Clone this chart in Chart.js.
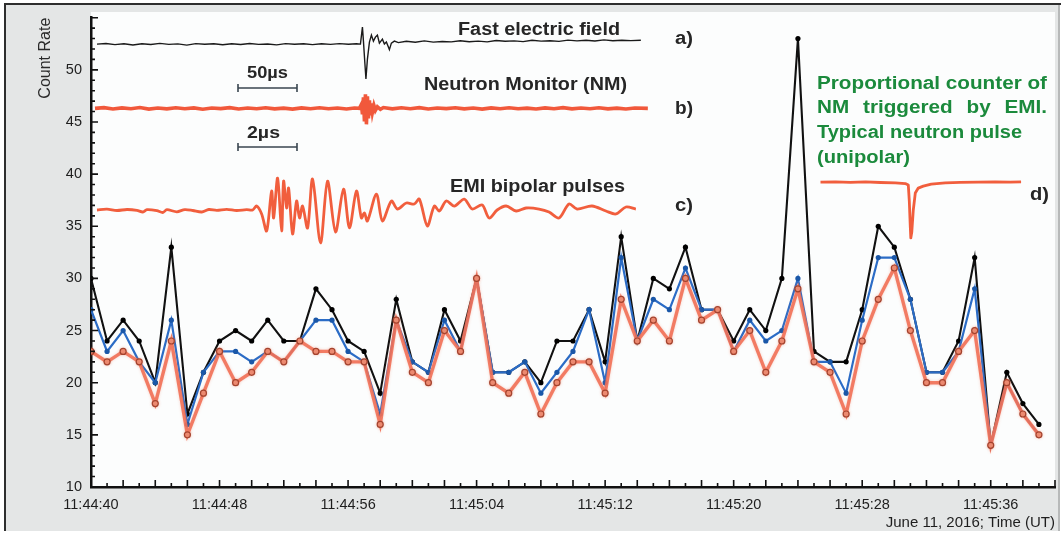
<!DOCTYPE html>
<html>
<head>
<meta charset="utf-8">
<script src="https://cdn.jsdelivr.net/npm/chart.js@4.4.1/dist/chart.umd.min.js"></script>
<style>
  html, body { margin: 0; padding: 0; background: #fff; }
  #wrap { width: 1064px; height: 535px; }
</style>
</head>
<body>
<div id="wrap"><canvas id="rateChart" width="1064" height="535"></canvas></div>
<script>
// one-second counts, 11:44:40 .. 11:45:39 UT
var times = [
  '11:44:40','11:44:41','11:44:42','11:44:43','11:44:44','11:44:45','11:44:46','11:44:47','11:44:48','11:44:49',
  '11:44:50','11:44:51','11:44:52','11:44:53','11:44:54','11:44:55','11:44:56','11:44:57','11:44:58','11:44:59',
  '11:45:00','11:45:01','11:45:02','11:45:03','11:45:04','11:45:05','11:45:06','11:45:07','11:45:08','11:45:09',
  '11:45:10','11:45:11','11:45:12','11:45:13','11:45:14','11:45:15','11:45:16','11:45:17','11:45:18','11:45:19',
  '11:45:20','11:45:21','11:45:22','11:45:23','11:45:24','11:45:25','11:45:26','11:45:27','11:45:28','11:45:29',
  '11:45:30','11:45:31','11:45:32','11:45:33','11:45:34','11:45:35','11:45:36','11:45:37','11:45:38','11:45:39'
];
var tickLabels = ['11:44:40', '11:44:48', '11:44:56', '11:45:04', '11:45:12', '11:45:20', '11:45:28', '11:45:36'];

var blackRate = [30,24,26,24,20,33,17,21,24,25, 24,26,24,24,29,27,24,23,19,28,
                 22,21,27,24,30,21,21,22,20,24, 24,27,22,34,24,30,29,33,27,27,
                 24,27,25,30,53,23,22,22,27,35, 33,28,21,21,24,32,14,21,18,16];
var blueRate  = [27,23,25,22,20,26,16,21,23,23, 22,23,22,24,26,26,23,22,17,26,
                 22,21,26,23,30,21,21,22,19,21, 23,27,20,32,24,28,27,31,27,27,
                 23,26,24,25,30,22,22,19,26,32, 32,28,21,21,23,29,14,20,17,15];
var redRate   = [23,22,23,22,18,24,15,19,23,20, 21,23,22,24,23,23,22,22,16,26,
                 21,20,25,23,30,20,19,21,17,20, 22,22,19,28,24,26,24,30,26,27,
                 23,25,21,24,29,22,21,17,24,28, 31,25,20,20,23,25,14,20,17,15];

// inset waveforms: [sample, amplitude] pairs
var fieldTrace = [
  [0,0],[9,0.6],[18,-0.5],[27,0.4],[36,-0.9],[45,0.3],[54,-0.4],[63,0.7],[72,-0.3],[81,0.2],
  [90,-1],[99,0.5],[108,-0.2],[117,0.4],[126,-0.6],[135,0.3],[144,-0.4],[153,0.6],[162,-0.3],[171,0.1],
  [180,-0.8],[189,0.5],[198,-0.2],[207,0.4],[216,-0.5],[225,0.3],[234,-0.3],[243,0.5],[252,-0.2],[260,0.3],
  [264,0],[266,17],[267,3],[268.5,-20],[269.5,-35],[271,-15],[273,2],[275,9],[277,3],[279,7],
  [281,9],[283,1],[286,5],[288,0],[290,2],[292,-3],[293,-5.5],[295,1],[298,3],[302,1.5],
  [310,2.8],[319,1.8],[328,3.2],[337,2],[346,2.6],[355,2.2],[364,3.4],[373,2.4],[382,3],[391,2.2],
  [400,3.6],[409,2.8],[418,3.2],[427,2.5],[436,3.8],[445,3],[454,3.4],[463,2.7],[472,4],[481,3.2],
  [490,3.8],[499,3.1],[508,4.2],[517,3.4],[526,3.9],[535,3.5],[545,3.8]
];
var nmTrace = [
  [0,0],[9,0.7],[18,-0.6],[27,0.5],[36,-0.4],[45,0.8],[54,-0.7],[63,0.3],[72,-0.5],[81,0.6],
  [90,-0.3],[99,0.5],[108,-0.8],[117,0.4],[126,-0.2],[135,0.7],[144,-0.6],[153,0.3],[162,-0.4],[171,0.6],
  [180,-0.5],[189,0.2],[198,-0.7],[207,0.5],[216,-0.3],[225,0.6],[234,-0.4],[243,0.3],[252,-0.6],[260,0.4],
  [265,0],[267,4],[268,-6],[269,11],[270,-13],[271,14],[272,-16],[273,12],[274,-10],[275,8],
  [276,-7],[277,5],[278,-4],[279.5,3],[281,-2],[283,1.5],[286,-1],[289,0.8],
  [298,-0.5],[307,0.6],[316,-0.3],[325,0.7],[334,-0.6],[343,0.4],[352,-0.2],[361,0.6],[370,-0.5],[379,0.3],
  [388,-0.7],[397,0.5],[406,-0.3],[415,0.6],[424,-0.4],[433,0.2],[442,-0.6],[451,0.5],[460,-0.3],[469,0.7],
  [478,-0.5],[487,0.3],[496,-0.4],[505,0.6],[514,-0.5],[523,0.2],[532,-0.6],[541,0.4],[554,0]
];
var emiTrace = [
  [0,0],[10,0.8],[20,-0.5],[30,0.5],[40,-0.3],[46,-2],[50,0.4],[60,-0.6],[66,-2.5],[70,0.3],
  [80,-1.8],[88,0.4],[96,-0.5],[105,-2],[112,0.5],[120,-0.4],[130,0.6],[140,-0.5],[150,0.3],[156,0],
  [160,4],[165,-4],[170,-21],[175,19],[177,-8],[181,32],[185,-21],[187,29],[190,2],[192,22],
  [196,-24],[200,9],[203,-8],[206,4],[211,-18],[216,31],[224,-33],[231,29],[239,-22],[247,21],
  [253,-18],[260,19],[265,-8],[268,-3],[271,-11],[280,16],[286,-11],[295,9],[301,1],[310,7],
  [318,6],[323,11],[331,-16],[338,4],[343,-1],[350,9],[358,4],[368,11],[376,1],[386,5],
  [393,-8],[401,0],[410,4],[420,-1],[430,2],[443,1],[453,-2],[463,-8],[473,6],[481,1],
  [496,4],[510,-1],[520,-4],[530,3],[540,1]
];
var pulseTrace = [
  [0,0],[15,0.3],[30,-0.3],[45,0.2],[60,-0.4],[75,-0.8],[85,-1.5],[88,-3],[89,-19],[90,-45],
  [90.5,-56],[91.5,-50],[93,-28],[95,-11],[98,-6],[103,-4],[111,-2],[125,-0.8],[140,-0.3],[158,0],
  [175,0.3],[190,0],[201,0.2]
];

var sansFont = '"Liberation Sans", Arial, sans-serif';

function toPoints(values) {
  return values.map(function (v, i) { return { x: i, y: v }; });
}

// hidden axis pair for one inset trace
function hiddenX(min, max) {
  return { type: 'linear', display: false, position: 'top', min: min, max: max };
}
function hiddenY(min, max) {
  return { type: 'linear', display: false, position: 'left', min: min, max: max };
}

// draws text stretched to a given width
function fitText(ctx, text, left, base, width) {
  var w = ctx.measureText(text).width;
  ctx.save();
  ctx.translate(left, base);
  ctx.scale(width / w, 1);
  ctx.fillText(text, 0, 0);
  ctx.restore();
  return width / w;
}

var panel = {
  id: 'panel',
  beforeDraw: function (chart) {
    var ctx = chart.ctx, a = chart.chartArea;
    ctx.save();
    ctx.fillStyle = '#ffffff';
    ctx.fillRect(0, 0, chart.width, chart.height);
    ctx.fillStyle = '#e4e6e6';
    ctx.fillRect(5, 4, 1055, 527);
    ctx.fillStyle = '#fcfdfd';
    ctx.fillRect(a.left, 12, a.right - a.left, a.bottom - 12);
    ctx.strokeStyle = '#2e2e2e';
    ctx.lineWidth = 2;
    ctx.beginPath();
    ctx.moveTo(5, 531); ctx.lineTo(5, 4); ctx.lineTo(1061, 4);
    ctx.stroke();
    ctx.strokeStyle = '#a8aaaa';
    ctx.lineWidth = 1.5;
    ctx.beginPath();
    ctx.moveTo(1059, 5); ctx.lineTo(1059, 531);
    ctx.stroke();
    ctx.restore();
  }
};

var tickMarks = {
  id: 'tickMarks',
  afterDatasetsDraw: function (chart) {
    var ctx = chart.ctx, a = chart.chartArea;
    var xs = chart.scales.x, ys = chart.scales.y;
    ctx.save();
    ctx.strokeStyle = '#111';
    ctx.lineWidth = 1.6;
    ctx.beginPath();
    for (var s = 0; s <= 60; s++) {
      var px = xs.getPixelForValue(s);
      ctx.moveTo(px, a.bottom);
      ctx.lineTo(px, a.bottom - (s % 2 === 0 ? 7 : 4));
    }
    for (var v = 10; v <= 55; v++) {
      var py = ys.getPixelForValue(v);
      ctx.moveTo(a.left, py);
      ctx.lineTo(a.left + (v % 5 === 0 ? 7 : 4), py);
    }
    ctx.stroke();
    ctx.restore();
  }
};

var redGlow = {
  id: 'redGlow',
  beforeDatasetDraw: function (chart, args) {
    if (args.index !== 0) return;
    chart.ctx.save();
    chart.ctx.shadowColor = 'rgba(240,120,90,0.35)';
    chart.ctx.shadowBlur = 3;
  },
  afterDatasetDraw: function (chart, args) {
    if (args.index !== 0) return;
    chart.ctx.restore();
  }
};

var insetText = {
  id: 'insetText',
  afterDraw: function (chart) {
    var ctx = chart.ctx;
    ctx.save();
    ctx.textAlign = 'left';
    ctx.textBaseline = 'alphabetic';
    ctx.fillStyle = '#262626';
    ctx.font = 'bold 17.5px ' + sansFont;
    fitText(ctx, 'Fast electric field', 458, 35, 162);
    fitText(ctx, 'Neutron Monitor (NM)', 424, 90, 203);
    fitText(ctx, 'EMI bipolar pulses', 450, 192, 175);
    ctx.font = 'bold 18px ' + sansFont;
    fitText(ctx, 'a)', 675, 44, 18);
    fitText(ctx, 'b)', 675, 114, 18);
    fitText(ctx, 'c)', 675, 211, 18);
    fitText(ctx, 'd)', 1030, 200, 19);
    ctx.font = 'bold 17px ' + sansFont;
    fitText(ctx, '50µs', 247, 78, 41);
    fitText(ctx, '2µs', 247, 138, 33);

    // time-scale bars
    ctx.strokeStyle = '#3a4650';
    ctx.lineWidth = 1.6;
    [88, 147].forEach(function (y) {
      ctx.beginPath();
      ctx.moveTo(238, y); ctx.lineTo(297, y);
      ctx.moveTo(238, y - 4); ctx.lineTo(238, y + 4);
      ctx.moveTo(297, y - 4); ctx.lineTo(297, y + 4);
      ctx.stroke();
    });

    // note on the proportional counter
    ctx.fillStyle = '#1b8a3c';
    ctx.font = 'bold 17.5px ' + sansFont;
    var sx = fitText(ctx, 'Proportional counter of', 817, 88.5, 230);
    var words = ['NM', 'triggered', 'by', 'EMI.'];
    var widths = words.map(function (w) { return ctx.measureText(w).width * sx; });
    var gap = (230 - widths.reduce(function (p, c) { return p + c; }, 0)) / (words.length - 1);
    var x = 817;
    words.forEach(function (w, i) {
      fitText(ctx, w, x, 113, widths[i]);
      x += widths[i] + gap;
    });
    fitText(ctx, 'Typical neutron pulse', 817, 138, 205);
    fitText(ctx, '(unipolar)', 817, 163, 93);
    ctx.restore();
  }
};

var ctx = document.getElementById('rateChart').getContext('2d');

var rateChart = new Chart(ctx, {
  type: 'line',
  data: {
    datasets: [
      {
        label: 'red',
        data: toPoints(redRate),
        borderColor: 'rgba(241,112,86,0.9)',
        borderWidth: 3.4,
        pointRadius: 3,
        pointBorderWidth: 1.2,
        pointBackgroundColor: '#ec8c73',
        pointBorderColor: '#a4432e',
        tension: 0
      },
      {
        label: 'blue',
        data: toPoints(blueRate),
        borderColor: '#2b6cc6',
        borderWidth: 2.2,
        pointRadius: 2.6,
        pointBorderWidth: 0,
        pointBackgroundColor: '#1a57a8',
        tension: 0
      },
      {
        label: 'black',
        data: toPoints(blackRate),
        borderColor: '#111',
        borderWidth: 2.1,
        pointRadius: 2.6,
        pointBorderWidth: 0,
        pointBackgroundColor: '#000',
        tension: 0
      },
      {
        label: 'field',
        data: fieldTrace,
        xAxisID: 'xField',
        yAxisID: 'yField',
        borderColor: '#1a1a1a',
        borderWidth: 1.4,
        pointRadius: 0
      },
      {
        label: 'nm',
        data: nmTrace,
        xAxisID: 'xNm',
        yAxisID: 'yNm',
        borderColor: 'rgba(240,70,38,0.9)',
        borderWidth: 3.6,
        pointRadius: 0
      },
      {
        label: 'emi',
        data: emiTrace,
        xAxisID: 'xEmi',
        yAxisID: 'yEmi',
        borderColor: 'rgba(240,80,45,0.92)',
        borderWidth: 2.8,
        borderJoinStyle: 'round',
        tension: 0.3,
        pointRadius: 0
      },
      {
        label: 'pulse',
        data: pulseTrace,
        xAxisID: 'xPulse',
        yAxisID: 'yPulse',
        borderColor: 'rgba(240,80,45,0.92)',
        borderWidth: 2.8,
        borderJoinStyle: 'round',
        pointRadius: 0
      }
    ]
  },
  options: {
    responsive: false,
    animation: false,
    devicePixelRatio: 1,
    layout: { padding: { left: 0, top: 16, right: 7, bottom: 0 } },
    plugins: {
      legend: { display: false },
      tooltip: { enabled: false }
    },
    scales: {
      x: {
        type: 'linear',
        position: 'bottom',
        min: 0,
        max: 60,
        afterFit: function (scale) { scale.height = 48; },
        grid: { display: false, drawTicks: false },
        border: { display: true, color: '#111', width: 2.5 },
        ticks: {
          stepSize: 8,
          maxRotation: 0,
          padding: 9,
          color: '#1e1e1e',
          font: { family: sansFont, size: 14.5 },
          callback: function (v) { return tickLabels[v / 8] || ''; }
        },
        title: {
          display: true,
          text: 'June 11, 2016; Time (UT)',
          align: 'end',
          color: '#1e1e1e',
          font: { family: sansFont, size: 15 },
          padding: { top: 0, bottom: 3 }
        }
      },
      y: {
        type: 'linear',
        position: 'left',
        min: 10,
        max: 55,
        afterFit: function (scale) { scale.width = 91; },
        grid: { display: false, drawTicks: false },
        border: { display: true, color: '#111', width: 2.5 },
        ticks: {
          stepSize: 5,
          padding: 9,
          color: '#1e1e1e',
          font: { family: sansFont, size: 14.5 },
          callback: function (v) { return v <= 50 ? v : ''; }
        },
        title: {
          display: true,
          text: 'Count Rate',
          align: 'end',
          color: '#2a2a2a',
          font: { family: sansFont, size: 16 },
          padding: { top: 36, bottom: 0 }
        }
      },
      xField: hiddenX(-6, 960),
      yField: hiddenY(-444.5, 26.5),
      xNm: hiddenX(-4, 962),
      yNm: hiddenY(-380, 91),
      xEmi: hiddenX(-6, 960),
      yEmi: hiddenY(-278, 193),
      xPulse: hiddenX(-731, 235),
      yPulse: hiddenY(-306, 165)
    }
  },
  plugins: [panel, redGlow, tickMarks, insetText]
});
</script>
</body>
</html>
